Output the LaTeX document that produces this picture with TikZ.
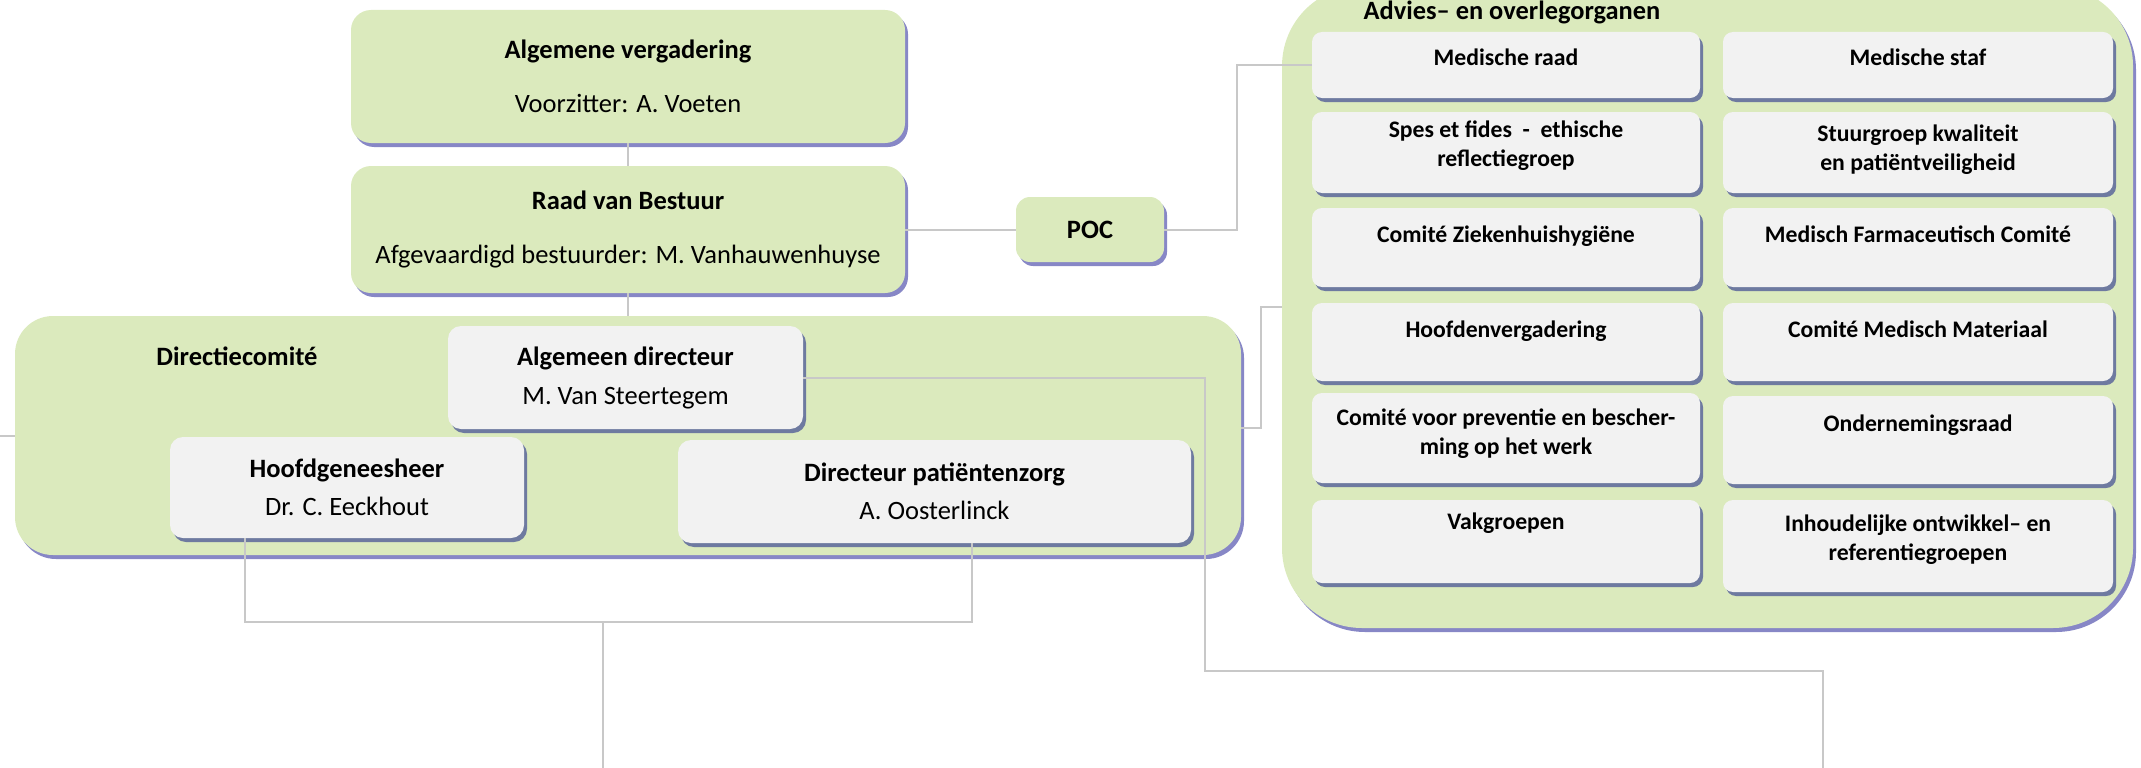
\documentclass[tikz,border=0pt]{standalone}
\usepackage{fontspec}
\setmainfont{Carlito}
\usetikzlibrary{shadows,positioning}

\definecolor{orggreen}{HTML}{DBEABD}
\definecolor{orggrey}{HTML}{F2F2F2}
\definecolor{shadowgreen}{HTML}{8787C6}
\definecolor{shadowgrey}{HTML}{6E7AA0}
\definecolor{linkgrey}{HTML}{C8C8C8}

\begin{document}
\begin{tikzpicture}[x=1pt,y=-1pt,
  greenbox/.style={fill=orggreen, rounded corners=20pt, inner sep=0pt, align=center,
    font=\fontsize{26.5}{32}\selectfont,
    drop shadow={shadow xshift=3pt,shadow yshift=-4pt,fill=shadowgreen,opacity=1}},
  greybox/.style={fill=orggrey, rounded corners=13pt, inner sep=0pt, align=center,
    font=\fontsize{26.5}{32}\selectfont,
    drop shadow={shadow xshift=3pt,shadow yshift=-4pt,fill=shadowgrey,opacity=1}},
  advbox/.style={greybox, rounded corners=10pt},
  advtext/.style={inner sep=0pt, align=center, font=\fontsize{23.7}{29}\selectfont\bfseries,
    execute at begin node=\strut},
  link/.style={draw=linkgrey, line width=2pt}]
\useasboundingbox (0,0) rectangle (2141,768);

% big frames
\node[greenbox, rounded corners=80pt, minimum width=851pt, minimum height=642pt] (advies) at (1707.5,307) {};
\node[font=\fontsize{26.4}{32}\selectfont\bfseries, anchor=base] (advtitle) at (1512,20) {Advies– en overlegorganen};
\node[greenbox, rounded corners=38pt, minimum width=1226pt, minimum height=239pt] (dircom) at (628,435.5) {};
\node[font=\fontsize{26.5}{32}\selectfont\bfseries, anchor=base] (dirlabel) at (237,365) {Directiecomité};

% top of the chart
\node[greenbox, minimum width=554pt, minimum height=133pt] (algvg) at (628,76.5) {\textbf{Algemene vergadering}\\[22pt]Voorzitter: A. Voeten};
\node[greenbox, minimum width=554pt, minimum height=127pt] (rvb) at (628,229.5) {\textbf{Raad van Bestuur}\\[22pt]Afgevaardigd bestuurder: M. Vanhauwenhuyse};
\node[greenbox, rounded corners=14pt, minimum width=148pt, minimum height=65pt] (poc) at (1090,229.5) {\textbf{POC}};

% directiecomite
\node[greybox, minimum width=355pt, minimum height=103pt] (algdir) at (625.5,377.5) {\textbf{Algemeen directeur}\\[7pt]M. Van Steertegem};
\node[greybox, minimum width=354pt, minimum height=101pt] (hoofdg) at (347,487.5) {\textbf{Hoofdgeneesheer}\\[6pt]Dr. C. Eeckhout};
\node[greybox, minimum width=513pt, minimum height=103pt] (dirpz) at (934.5,491.5) {\textbf{Directeur patiëntenzorg}\\[6pt]A. Oosterlinck};

% advies- en overlegorganen
\node[advbox, minimum width=388pt, minimum height=66pt] (medraad) at (1506,65) {};
\node[advtext, below=13pt of medraad.north] (medraad-t) {Medische raad};
\node[advbox, minimum width=390pt, minimum height=66pt] (medstaf) at (1918,65) {};
\node[advtext, below=13pt of medstaf.north] (medstaf-t) {Medische staf};
\node[advbox, minimum width=388pt, minimum height=81pt] (spes) at (1506,152.5) {};
\node[advtext, below=9pt of spes.north] (spes-t) {Spes et fides\ \ -\ \ ethische\\reflectiegroep};
\node[advbox, minimum width=390pt, minimum height=81pt] (stuur) at (1918,152.5) {};
\node[advtext, below=13pt of stuur.north] (stuur-t) {Stuurgroep kwaliteit\\en patiëntveiligheid};
\node[advbox, minimum width=388pt, minimum height=79pt] (hygiene) at (1506,247.5) {};
\node[advtext, below=14pt of hygiene.north] (hygiene-t) {Comité Ziekenhuishygiëne};
\node[advbox, minimum width=390pt, minimum height=79pt] (farma) at (1918,247.5) {};
\node[advtext, below=14pt of farma.north] (farma-t) {Medisch Farmaceutisch Comité};
\node[advbox, minimum width=388pt, minimum height=78pt] (hoofden) at (1506,342) {};
\node[advtext, below=14pt of hoofden.north] (hoofden-t) {Hoofdenvergadering};
\node[advbox, minimum width=390pt, minimum height=78pt] (materiaal) at (1918,342) {};
\node[advtext, below=14pt of materiaal.north] (materiaal-t) {Comité Medisch Materiaal};
\node[advbox, minimum width=388pt, minimum height=90pt] (preventie) at (1506,438) {};
\node[advtext, below=16pt of preventie.north] (preventie-t) {Comité voor preventie en bescher-\\ming op het werk};
\node[advbox, minimum width=390pt, minimum height=88pt] (ondraad) at (1918,440) {};
\node[advtext, below=15pt of ondraad.north] (ondraad-t) {Ondernemingsraad};
\node[advbox, minimum width=388pt, minimum height=83pt] (vakgr) at (1506,541.5) {};
\node[advtext, below=9pt of vakgr.north] (vakgr-t) {Vakgroepen};
\node[advbox, minimum width=390pt, minimum height=92pt] (refgr) at (1918,546) {};
\node[advtext, below=15pt of refgr.north] (refgr-t) {Inhoudelijke ontwikkel– en\\referentiegroepen};

% connectors
\coordinate (leftend) at (0,435.5);
\coordinate (lowmid) at (603,768);
\coordinate (lowright) at (1823,768);
\draw[link] (algvg.south) -- (rvb.north);
\draw[link] (rvb.south) -- (dircom.north);
\draw[link] (rvb.east) -- (poc.west);
\draw[link] (poc.east) -- ++(73,0) |- (medraad.west);
\draw[link] ([yshift=7.5pt]dircom.east) -- ++(20,0) |- (advies.west);
\draw[link] (algdir.east) -| (1205,671) -| (lowright);
\draw[link] ([xshift=-102pt]hoofdg.south) -- ++(0,84) -| ([xshift=37.5pt]dirpz.south);
\draw[link] (lowmid) -- ++(0,-146);
\draw[link] (leftend) -- (dircom.west);
\end{tikzpicture}
\end{document}
